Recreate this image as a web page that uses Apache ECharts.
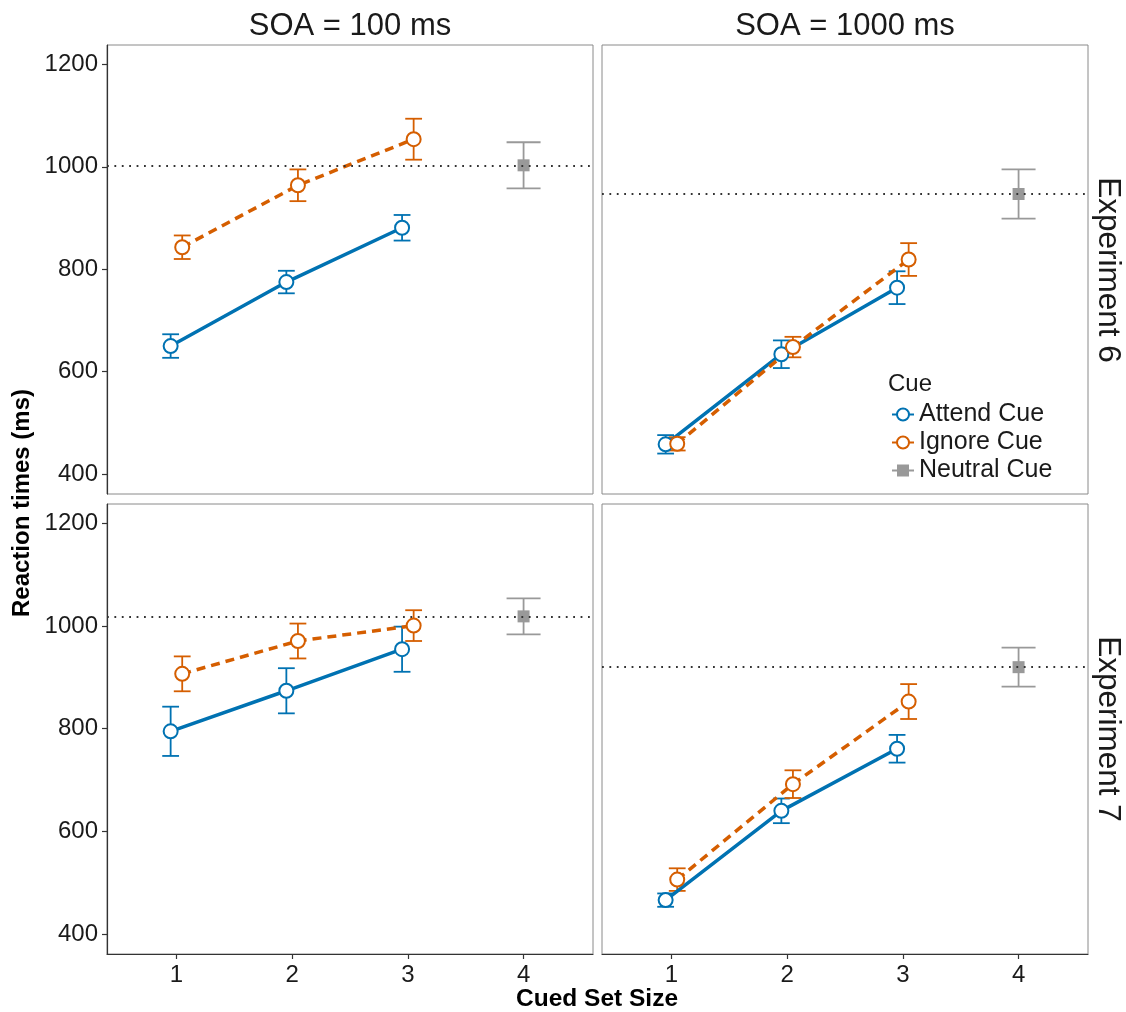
<!DOCTYPE html>
<html><head><meta charset="utf-8">
<script src="https://cdn.jsdelivr.net/npm/echarts@6/dist/echarts.min.js"></script>
<style>html,body{margin:0;padding:0;background:#fff}#c{width:1126px;height:1012px}</style>
</head><body><div id="c"></div>
<script>
// ---------- data ----------
const cuedSetSizes = [1, 2, 3];
const neutralSetSize = 4;
const xTickValues = [1, 2, 3, 4];
const yTickValues = [400, 600, 800, 1000, 1200];
const soaLabels = ['SOA = 100 ms', 'SOA = 1000 ms'];
const experimentLabels = ['Experiment 6', 'Experiment 7'];
const cueNames = ['Attend Cue', 'Ignore Cue', 'Neutral Cue'];

// Experiment 6, SOA 100 ms
const exp6Soa100Attend = [650, 775, 881];
const exp6Soa100AttendErr = [23, 22, 25];
const exp6Soa100Ignore = [843, 964, 1054];
const exp6Soa100IgnoreErr = [23, 31, 40];
const exp6Soa100Neutral = 1003;
const exp6Soa100NeutralErr = 45;

// Experiment 6, SOA 1000 ms
const exp6Soa1000Attend = [458, 634, 764];
const exp6Soa1000AttendErr = [18, 27, 32];
const exp6Soa1000Ignore = [459, 648, 819];
const exp6Soa1000IgnoreErr = [13, 20, 32];
const exp6Soa1000Neutral = 947;
const exp6Soa1000NeutralErr = 48;

// Experiment 7, SOA 100 ms
const exp7Soa100Attend = [795, 874, 955];
const exp7Soa100AttendErr = [48, 44, 44];
const exp7Soa100Ignore = [907, 971, 1001];
const exp7Soa100IgnoreErr = [34, 34, 30];
const exp7Soa100Neutral = 1019;
const exp7Soa100NeutralErr = 35;

// Experiment 7, SOA 1000 ms
const exp7Soa1000Attend = [466, 640, 761];
const exp7Soa1000AttendErr = [13, 24, 27];
const exp7Soa1000Ignore = [506, 692, 853];
const exp7Soa1000IgnoreErr = [22, 27, 34];
const exp7Soa1000Neutral = 920;
const exp7Soa1000NeutralErr = 38;

// ---------- layout / style ----------
const FONT = '"Liberation Sans", Arial, sans-serif';
const BLUE = '#0072B2', ORANGE = '#D55E00', GREY = '#999999';
const DODGE = 0.05;
const X_MIN = 0.4, X_MAX = 4.6, Y_MIN = 361, Y_MAX = 1238;
const gridBoxes = [
  {left: 107, top: 45, width: 486, height: 449},
  {left: 602, top: 45, width: 486, height: 449},
  {left: 107, top: 504, width: 486, height: 450},
  {left: 602, top: 504, width: 486, height: 450}
];
const panels = [
  {attend: exp6Soa100Attend, attendErr: exp6Soa100AttendErr, ignore: exp6Soa100Ignore, ignoreErr: exp6Soa100IgnoreErr, neutral: exp6Soa100Neutral, neutralErr: exp6Soa100NeutralErr},
  {attend: exp6Soa1000Attend, attendErr: exp6Soa1000AttendErr, ignore: exp6Soa1000Ignore, ignoreErr: exp6Soa1000IgnoreErr, neutral: exp6Soa1000Neutral, neutralErr: exp6Soa1000NeutralErr},
  {attend: exp7Soa100Attend, attendErr: exp7Soa100AttendErr, ignore: exp7Soa100Ignore, ignoreErr: exp7Soa100IgnoreErr, neutral: exp7Soa100Neutral, neutralErr: exp7Soa100NeutralErr},
  {attend: exp7Soa1000Attend, attendErr: exp7Soa1000AttendErr, ignore: exp7Soa1000Ignore, ignoreErr: exp7Soa1000IgnoreErr, neutral: exp7Soa1000Neutral, neutralErr: exp7Soa1000NeutralErr}
];

function errorBarRender(capHalf, color) {
  return function (params, api) {
    const x = api.value(0);
    const lo = api.coord([x, api.value(1)]);
    const hi = api.coord([x, api.value(2)]);
    const style = {stroke: color, lineWidth: 1.8, fill: null};
    return {
      type: 'group',
      children: [
        {type: 'line', shape: {x1: lo[0], y1: lo[1], x2: hi[0], y2: hi[1]}, style: style},
        {type: 'line', shape: {x1: hi[0] - capHalf, y1: hi[1], x2: hi[0] + capHalf, y2: hi[1]}, style: style},
        {type: 'line', shape: {x1: lo[0] - capHalf, y1: lo[1], x2: lo[0] + capHalf, y2: lo[1]}, style: style}
      ]
    };
  };
}

const grids = gridBoxes.map(b => Object.assign({show: true, borderColor: '#8a8a8a', borderWidth: 1, backgroundColor: 'transparent', containLabel: false}, b));

const xAxes = gridBoxes.map((b, i) => {
  const bottom = i >= 2;
  return {
    type: 'value', gridIndex: i, min: X_MIN, max: X_MAX,
    splitLine: {show: false},
    axisLine: {show: bottom, onZero: false, lineStyle: {color: '#333', width: 1.2}},
    axisTick: {show: bottom, customValues: xTickValues, length: 5, lineStyle: {color: '#333', width: 1.2}},
    axisLabel: {show: bottom, customValues: xTickValues, margin: 9, fontSize: 24, color: '#1a1a1a', fontFamily: FONT,
      formatter: v => String(v)}
  };
});
const yAxes = gridBoxes.map((b, i) => {
  const left = i % 2 === 0;
  return {
    type: 'value', gridIndex: i, min: Y_MIN, max: Y_MAX,
    splitLine: {show: false},
    axisLine: {show: left, onZero: false, lineStyle: {color: '#333', width: 1.2}},
    axisTick: {show: left, customValues: yTickValues, length: 5, lineStyle: {color: '#333', width: 1.2}},
    axisLabel: {show: left, customValues: yTickValues, margin: 9, fontSize: 24, color: '#1a1a1a', fontFamily: FONT,
      formatter: v => String(v)}
  };
});

const series = [];
panels.forEach((p, i) => {
  const attendPts = cuedSetSizes.map((s, k) => [s - DODGE, p.attend[k]]);
  const ignorePts = cuedSetSizes.map((s, k) => [s + DODGE, p.ignore[k]]);
  series.push({
    type: 'line', name: cueNames[0], xAxisIndex: i, yAxisIndex: i, z: 3,
    data: attendPts, symbol: 'circle', symbolSize: 14, animation: false,
    lineStyle: {color: BLUE, width: 3.5},
    itemStyle: {color: '#fff', borderColor: BLUE, borderWidth: 2}
  });
  series.push({
    type: 'line', name: cueNames[1], xAxisIndex: i, yAxisIndex: i, z: 3,
    data: ignorePts, symbol: 'circle', symbolSize: 14, animation: false,
    lineStyle: {color: ORANGE, width: 3.5, type: [9, 6]},
    itemStyle: {color: '#fff', borderColor: ORANGE, borderWidth: 2}
  });
  series.push({
    type: 'line', name: cueNames[2], xAxisIndex: i, yAxisIndex: i, z: 3,
    data: [[neutralSetSize, p.neutral]], symbol: 'rect', symbolSize: 12, animation: false,
    lineStyle: {color: GREY, width: 2.5},
    itemStyle: {color: GREY},
    markLine: {
      silent: true, symbol: ['none', 'none'], animation: false,
      label: {show: false},
      lineStyle: {color: '#333', type: [1.8, 5.6], width: 1.8},
      data: [{yAxis: p.neutral}]
    }
  });
  series.push({
    type: 'custom', name: 'attendErr' + i, xAxisIndex: i, yAxisIndex: i, z: 1, silent: true,
    renderItem: errorBarRender(8.4, BLUE), encode: {x: 0, y: [1, 2]},
    data: cuedSetSizes.map((s, k) => [s - DODGE, p.attend[k] - p.attendErr[k], p.attend[k] + p.attendErr[k]])
  });
  series.push({
    type: 'custom', name: 'ignoreErr' + i, xAxisIndex: i, yAxisIndex: i, z: 1, silent: true,
    renderItem: errorBarRender(8.4, ORANGE), encode: {x: 0, y: [1, 2]},
    data: cuedSetSizes.map((s, k) => [s + DODGE, p.ignore[k] - p.ignoreErr[k], p.ignore[k] + p.ignoreErr[k]])
  });
  series.push({
    type: 'custom', name: 'neutralErr' + i, xAxisIndex: i, yAxisIndex: i, z: 1, silent: true,
    renderItem: errorBarRender(17, GREY), encode: {x: 0, y: [1, 2]},
    data: [[neutralSetSize, p.neutral - p.neutralErr, p.neutral + p.neutralErr]]
  });
});

const textStyle = (t, x, y, size, extra) => ({
  type: 'text', x: x, y: y,
  style: Object.assign({text: t, fontSize: size, fontFamily: FONT, fill: '#1a1a1a', align: 'center', verticalAlign: 'middle'}, extra || {})
});

const graphics = [
  textStyle(soaLabels[0], 350, 26, 31),
  textStyle(soaLabels[1], 845, 26, 31),
  Object.assign(textStyle(experimentLabels[0], 1108, 270, 31.5), {rotation: -Math.PI / 2}),
  Object.assign(textStyle(experimentLabels[1], 1108, 729, 31.5), {rotation: -Math.PI / 2}),
  Object.assign(textStyle('Reaction times (ms)', 22, 503, 24, {fontWeight: 'bold', fill: '#000'}), {rotation: Math.PI / 2}),
  textStyle('Cued Set Size', 597, 999, 24.5, {fontWeight: 'bold', fill: '#000'}),
  textStyle('Cue', 888, 384, 24, {align: 'left'})
];

const chart = echarts.init(document.getElementById('c'), null, {renderer: 'canvas'});
chart.setOption({
  animation: false,
  backgroundColor: '#fff',
  grid: grids,
  xAxis: xAxes,
  yAxis: yAxes,
  legend: {
    data: cueNames, orient: 'vertical', left: 886, top: 397,
    itemWidth: 22, itemHeight: 15, itemGap: 3,
    textStyle: {fontSize: 25, fontFamily: FONT, color: '#1a1a1a'},
    selectedMode: false
  },
  graphic: graphics,
  series: series
});
</script>
</body></html>
